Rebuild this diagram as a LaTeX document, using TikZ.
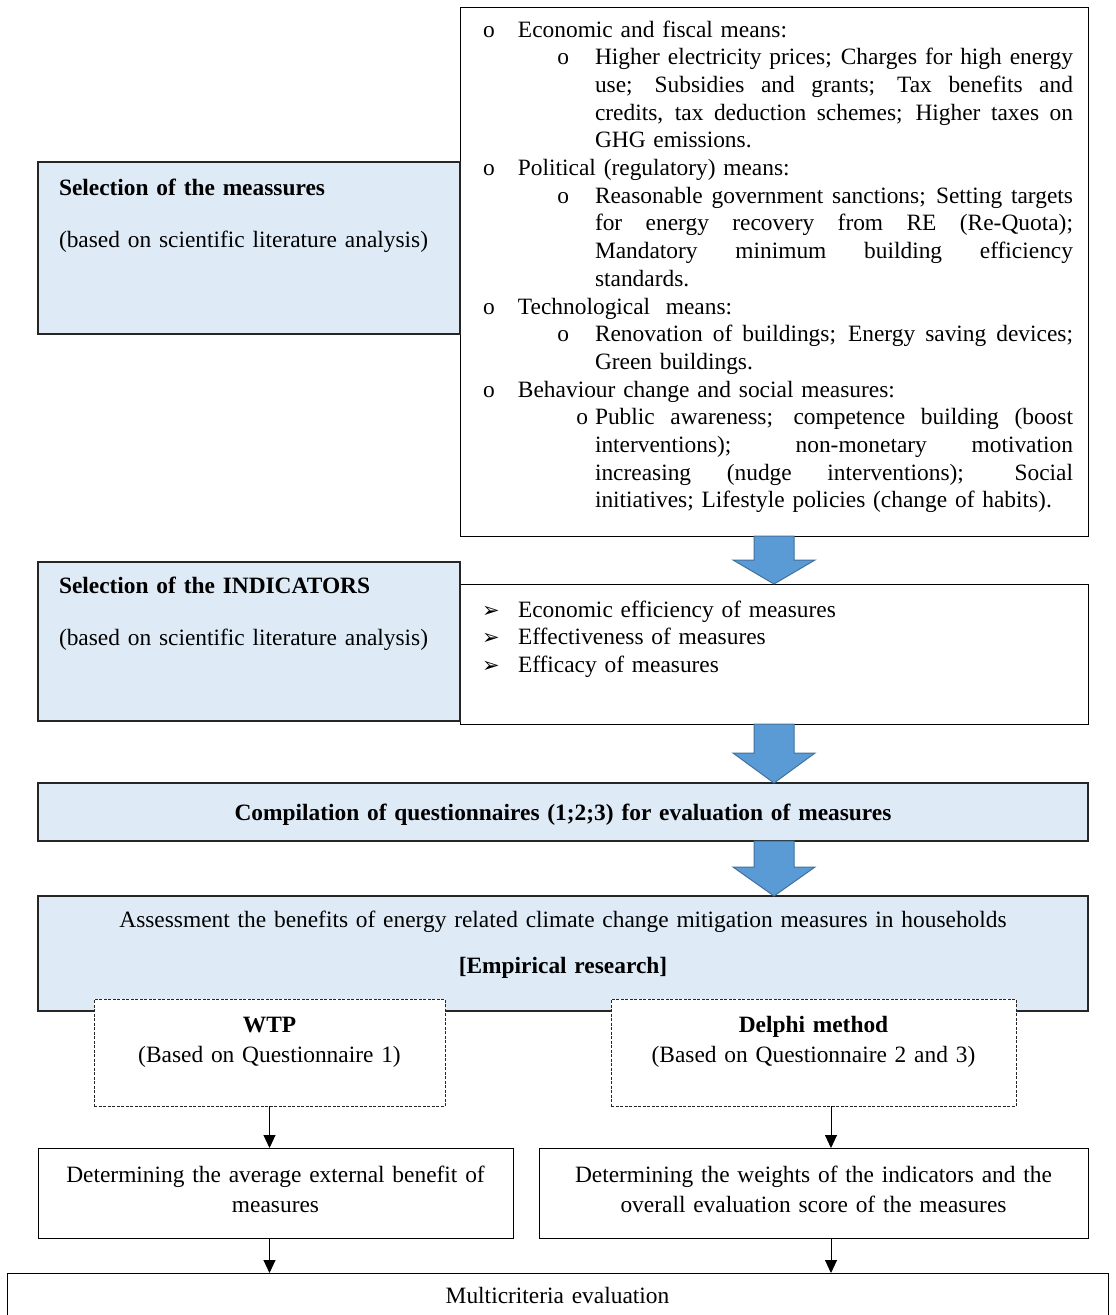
\documentclass[tikz,border=0pt]{standalone}
\usepackage{fontspec}
\setmainfont{Liberation Serif}
\newfontfamily\dejavu{DejaVu Sans}
\usetikzlibrary{arrows.meta}
\definecolor{boxblue}{HTML}{DEEAF6}
\definecolor{arrowblue}{HTML}{5B9BD5}
\definecolor{arrowedge}{HTML}{41719C}
\definecolor{edgedark}{HTML}{262626}
% level-one item (one line)
\newcommand\lvlone[1]{\leavevmode\makebox[43pt][l]{\hspace{8pt}o}#1\par}
% justified line of fixed width
\newcommand\justline[1]{\makebox[478pt][s]{\spaceskip=\fontdimen2\font plus 1fill\relax\xspaceskip=\spaceskip #1}}
% level-two: first line with bullet (justified), further justified lines, last line
\newcommand\lvtwofirst[2]{\leavevmode\hspace*{120pt}\llap{o\hspace{#1}}\justline{#2}\par}
\newcommand\lvtwojust[1]{\leavevmode\hspace*{120pt}\justline{#1}\par}
\newcommand\lvtwolast[1]{\leavevmode\hspace*{120pt}#1\par}
\newcommand\arrbul{\leavevmode\makebox[43pt][l]{\hspace{7pt}{\dejavu\fontsize{21}{21}\selectfont ➢}}}
\newcommand\blockdown[3]{%
  \draw[blockarr] ([xshift=-20pt]ax |- #1.south) -- ([xshift=20pt]ax |- #1.south)
    -- ([xshift=20pt,yshift=#3]ax |- #2.north) -- ([xshift=41pt,yshift=#3]ax |- #2.north)
    -- (ax |- #2.north) -- ([xshift=-41pt,yshift=#3]ax |- #2.north)
    -- ([xshift=-20pt,yshift=#3]ax |- #2.north) -- cycle;}
\begin{document}
\begin{tikzpicture}[x=1pt,y=-1pt,
  base/.style={font=\fontsize{23.4}{27.6}\selectfont, inner ysep=0pt, outer sep=0pt, anchor=north west},
  bluebox/.style={base, draw=edgedark, fill=boxblue, line width=1.2pt},
  whitebox/.style={base, draw=black, fill=white, line width=0.9pt},
  dashbox/.style={base, draw=edgedark, fill=white, line width=0.8pt, dash pattern=on 3pt off 1.5pt},
  arr/.style={line width=0.9pt, -{Triangle[width=12pt,length=13pt]}},
  blockarr/.style={fill=arrowblue, draw=arrowedge, line width=1pt, line join=miter}]
\useasboundingbox (0,0) rectangle (1116,1315);
\fill[white] (0,0) rectangle (1116,1315);

% top right box with the measures
\node[whitebox, font=\fontsize{23.4}{27.7}\selectfont, text width=598pt, inner xsep=15pt,
      text height=30pt, text depth=499pt] (measures) at (460,7) {%
\lvlone{Economic and fiscal means:}%
\lvtwofirst{26pt}{Higher electricity prices; Charges for high energy}%
\lvtwojust{use; Subsidies and grants; Tax benefits and}%
\lvtwojust{credits, tax deduction schemes; Higher taxes on}%
\lvtwolast{GHG emissions.}%
\lvlone{Political (regulatory) means:}%
\lvtwofirst{26pt}{Reasonable government sanctions; Setting targets}%
\lvtwojust{for energy recovery from RE (Re-Quota);}%
\lvtwojust{Mandatory minimum building efficiency}%
\lvtwolast{standards.}%
\lvlone{Technological \ means:}%
\lvtwofirst{26pt}{Renovation of buildings; Energy saving devices;}%
\lvtwolast{Green buildings.}%
\lvlone{Behaviour change and social measures:}%
\lvtwofirst{7pt}{Public awareness; competence building (boost}%
\lvtwojust{interventions); non-monetary motivation}%
\lvtwojust{increasing (nudge interventions); Social}%
\lvtwolast{initiatives; Lifestyle policies (change of habits).}};

\node[bluebox, text width=380pt, inner xsep=21pt, align=left, text height=33pt, text depth=139pt]
  (selmeas) at (38,162) {\textbf{Selection of the meassures}\\[24.4pt](based on scientific literature analysis)};

% indicators
\node[whitebox, font=\fontsize{23.4}{27.5}\selectfont, text width=598pt, inner xsep=15pt,
      text height=33pt, text depth=107pt] (indic) at (460,584) {%
\arrbul Economic efficiency of measures\par
\arrbul Effectiveness of measures\par
\arrbul Efficacy of measures};

\node[bluebox, text width=380pt, inner xsep=21pt, align=left, text height=31pt, text depth=128pt]
  (selind) at (38,562) {\textbf{Selection of the INDICATORS}\\[24.4pt](based on scientific literature analysis)};

\node[bluebox, text width=1030pt, inner xsep=10pt, align=center, text height=37pt, text depth=21pt]
  (compil) at (38,783) {\textbf{Compilation of questionnaires (1;2;3) for evaluation of measures}};

\node[bluebox, text width=1030pt, inner xsep=10pt, align=center, text height=31pt, text depth=84pt]
  (assess) at (38,896) {Assessment the benefits of energy related climate change mitigation measures in households\\[18.4pt]\textbf{[Empirical research]}};

\node[dashbox, text width=331pt, inner xsep=10pt, align=center, text height=33pt, text depth=74pt]
  (wtp) at (94,999) {\textbf{WTP}\\[2.4pt](Based on Questionnaire 1)};
\node[dashbox, text width=385pt, inner xsep=10pt, align=center, text height=33pt, text depth=74pt]
  (delphi) at (611,999) {\textbf{Delphi method}\\[2.4pt](Based on Questionnaire 2 and 3)};

\node[whitebox, text width=455pt, inner xsep=10pt, align=center, text height=34pt, text depth=56pt]
  (det1) at (38,1148) {Determining the average external benefit of\\[2.4pt]measures};
\node[whitebox, text width=529pt, inner xsep=10pt, align=center, text height=34pt, text depth=56pt]
  (det2) at (539,1148) {Determining the weights of the indicators and the\\[2.4pt]overall evaluation score of the measures};

\node[base, text width=1081pt, inner xsep=10pt, align=center, text height=30pt, text depth=12pt]
  (multi) at (7,1273) {Multicriteria evaluation};
\draw[line width=0.9pt] (multi.south west) |- (multi.north east) -- (multi.south east);

% block arrows
\coordinate (ax) at (774,0);
\blockdown{measures}{indic}{24pt}
\blockdown{indic}{compil}{30pt}
\blockdown{compil}{assess}{29pt}

% small arrows
\coordinate (rcol) at (831,1100);
\draw[arr] (wtp.south) -- (wtp.south |- det1.north);
\draw[arr] (wtp.south |- det1.south) -- (wtp.south |- multi.north);
\draw[arr] (rcol |- delphi.south) -- (rcol |- det2.north);
\draw[arr] (rcol |- det2.south) -- (rcol |- multi.north);
\end{tikzpicture}
\end{document}
